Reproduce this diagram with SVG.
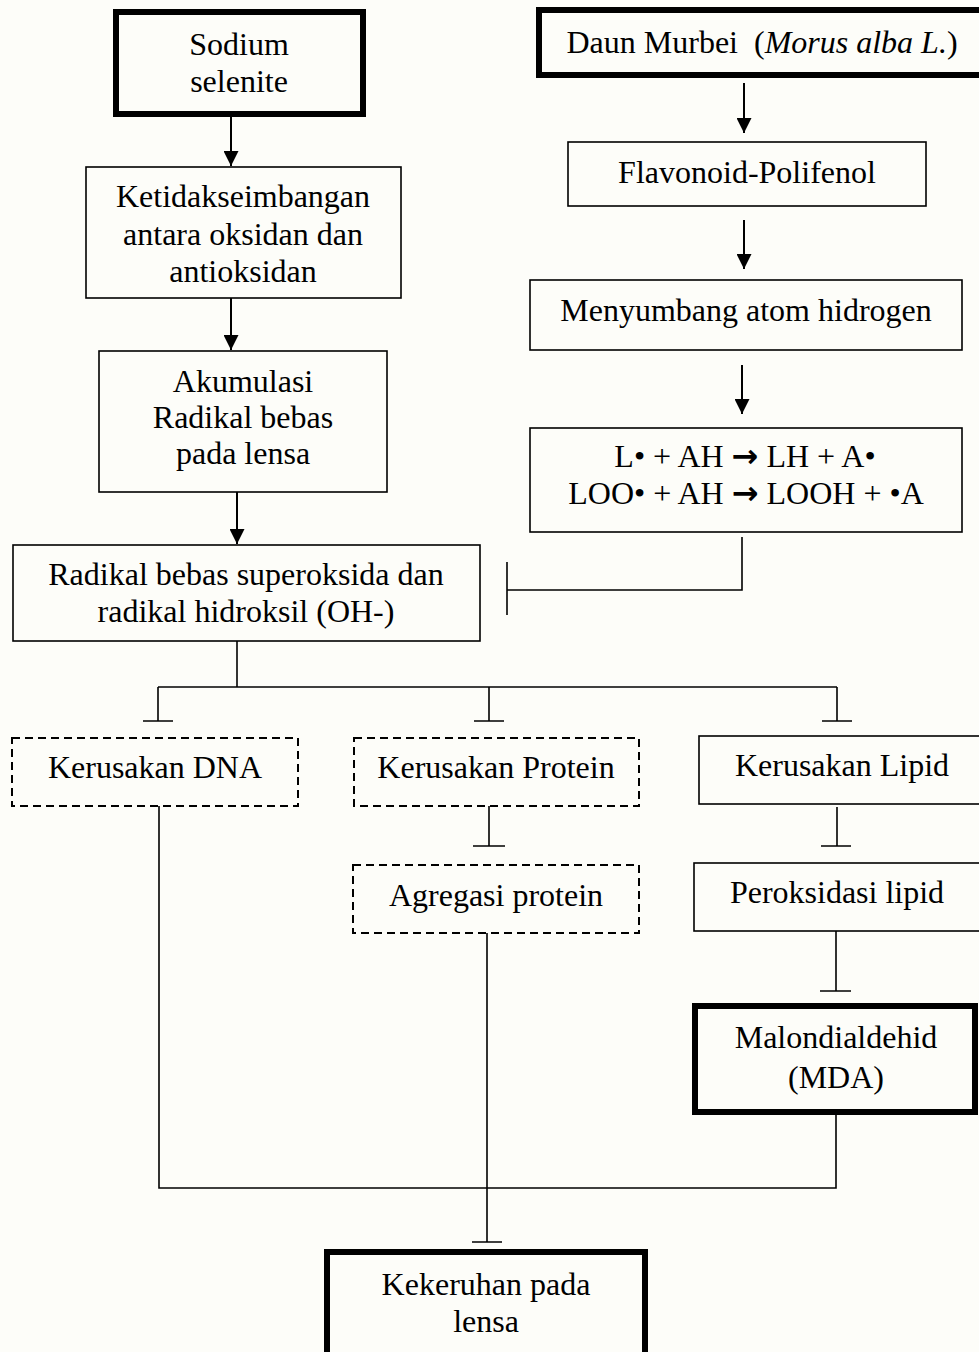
<svg xmlns="http://www.w3.org/2000/svg" width="979" height="1352" viewBox="0 0 979 1352">
  <defs>
    <marker id="arrowhead" markerUnits="userSpaceOnUse" markerWidth="15" markerHeight="15" viewBox="0 0 15 15" refX="15" refY="7.5" orient="auto">
      <path d="M0,0 L15,7.5 L0,15 Z" fill="#000"/>
    </marker>
    <style>
      .box { fill: none; stroke: #000; stroke-width: 1.6; }
      .bold { fill: none; stroke: #000; stroke-width: 6; }
      .dash { fill: none; stroke: #000; stroke-width: 2; stroke-dasharray: 8 5; }
      .line { fill: none; stroke: #000; stroke-width: 1.6; }
      .arrow { fill: none; stroke: #000; stroke-width: 2; marker-end: url(#arrowhead); }
      text { font-family: "Liberation Serif", "Times New Roman", serif; font-size: 32px; fill: #000; text-anchor: middle; }
      .sym { font-family: "DejaVu Sans", sans-serif; font-weight: bold; font-size: 32px; }
    </style>
  </defs>

  <rect width="979" height="1352" fill="#fdfdf9"/>

  <!-- connectors -->
  <g id="connectors">
    <line class="arrow" x1="231" y1="117" x2="231" y2="166"/>
    <line class="arrow" x1="231" y1="298" x2="231" y2="350"/>
    <line class="arrow" x1="237" y1="492" x2="237" y2="544"/>
    <line class="arrow" x1="744" y1="83" x2="744" y2="133"/>
    <line class="arrow" x1="744" y1="220" x2="744" y2="269"/>
    <line class="arrow" x1="742" y1="365" x2="742" y2="414"/>

    <!-- inhibition from the antioxidant reaction -->
    <path class="line" d="M742,537 V590 H507"/>
    <path class="line" d="M507,562 V615"/>

    <!-- branch to the three damage types -->
    <path class="line" d="M237,641 V687"/>
    <path class="line" d="M158,687 H837"/>
    <path class="line" d="M158,687 V721 M143,721 H173"/>
    <path class="line" d="M489,687 V721 M474,721 H504"/>
    <path class="line" d="M837,687 V721 M822,721 H852"/>

    <path class="line" d="M489,806 V846 M473,846 H505"/>
    <path class="line" d="M837,807 V846 M821,846 H851"/>
    <path class="line" d="M836,931 V991 M820,991 H851"/>

    <!-- convergence to lens opacity -->
    <path class="line" d="M159,806 V1188 H836 V1115"/>
    <path class="line" d="M487,933 V1242 M472,1242 H502"/>
  </g>

  <g id="sodium-selenite">
    <rect class="bold" x="116" y="12" width="247" height="102"/>
    <text x="239" y="55">Sodium</text>
    <text x="239" y="92">selenite</text>
  </g>

  <g id="ketidakseimbangan">
    <rect class="box" x="86" y="167" width="315" height="131"/>
    <text x="243" y="207">Ketidakseimbangan</text>
    <text x="243" y="245">antara oksidan dan</text>
    <text x="243" y="282">antioksidan</text>
  </g>

  <g id="akumulasi">
    <rect class="box" x="99" y="351" width="288" height="141"/>
    <text x="243" y="392">Akumulasi</text>
    <text x="243" y="428">Radikal bebas</text>
    <text x="243" y="464">pada lensa</text>
  </g>

  <g id="radikal-bebas">
    <rect class="box" x="13" y="545" width="467" height="96"/>
    <text x="246" y="585">Radikal bebas superoksida dan</text>
    <text x="246" y="622">radikal hidroksil (OH-)</text>
  </g>

  <g id="daun-murbei">
    <rect class="bold" x="539" y="10" width="452" height="65"/>
    <text x="762" y="53" xml:space="preserve">Daun Murbei  (<tspan font-style="italic">Morus alba L.</tspan>)</text>
  </g>

  <g id="flavonoid">
    <rect class="box" x="568" y="142" width="358" height="64"/>
    <text x="747" y="183">Flavonoid-Polifenol</text>
  </g>

  <g id="menyumbang">
    <rect class="box" x="530" y="280" width="432" height="70"/>
    <text x="746" y="321">Menyumbang atom hidrogen</text>
  </g>

  <g id="reaksi">
    <rect class="box" x="530" y="428" width="432" height="104"/>
    <text x="745" y="467">L• + AH <tspan class="sym">→</tspan> LH + A•</text>
    <text x="746" y="504">LOO• + AH <tspan class="sym">→</tspan> LOOH + •A</text>
  </g>

  <g id="kerusakan-dna">
    <rect class="dash" x="12" y="738" width="286" height="68"/>
    <text x="155" y="778">Kerusakan DNA</text>
  </g>

  <g id="kerusakan-protein">
    <rect class="dash" x="354" y="738" width="285" height="68"/>
    <text x="496" y="778">Kerusakan Protein</text>
  </g>

  <g id="kerusakan-lipid">
    <rect class="box" x="699" y="736" width="300" height="68"/>
    <text x="842" y="776">Kerusakan Lipid</text>
  </g>

  <g id="agregasi-protein">
    <rect class="dash" x="353" y="865" width="286" height="68"/>
    <text x="496" y="906">Agregasi protein</text>
  </g>

  <g id="peroksidasi-lipid">
    <rect class="box" x="694" y="863" width="300" height="68"/>
    <text x="837" y="903">Peroksidasi lipid</text>
  </g>

  <g id="mda">
    <rect class="bold" x="695" y="1006" width="280" height="106"/>
    <text x="836" y="1048">Malondialdehid</text>
    <text x="836" y="1088">(MDA)</text>
  </g>

  <g id="kekeruhan">
    <rect class="bold" x="327" y="1252" width="318" height="130"/>
    <text x="486" y="1295">Kekeruhan pada</text>
    <text x="486" y="1332">lensa</text>
  </g>
</svg>
